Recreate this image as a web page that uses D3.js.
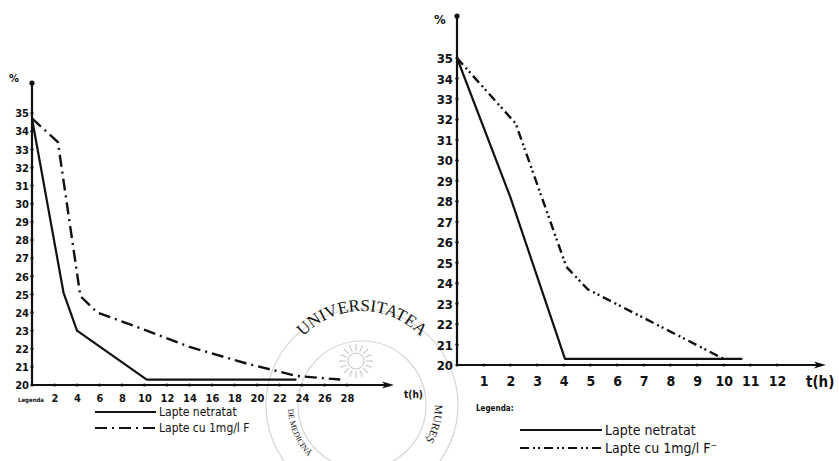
<!DOCTYPE html>
<meta charset="utf-8">
<head>
<style>
  body { margin: 0; background: #fff; }
  svg text { font-family: "DejaVu Sans Condensed", "Liberation Sans Narrow", sans-serif; fill: #111; }
  .tk text { font-weight: bold; }
</style>
</head>
<script src="https://d3js.org/d3.v7.min.js"></script>
<div id="chart"></div>
<script>
// values (time in hours, value in %)
var yTicks = [20, 21, 22, 23, 24, 25, 26, 27, 28, 29, 30, 31, 32, 33, 34, 35];
var xTicksL = [2, 4, 6, 8, 10, 12, 14, 16, 18, 20, 22, 24, 26, 28];
var xTicksR = [1, 2, 3, 4, 5, 6, 7, 8, 9, 10, 11, 12];

var timeL_netratat = [0, 2.8, 4, 10.2, 23.5];
var valL_netratat  = [34.7, 25.1, 23.0, 20.3, 20.3];
var timeL_fluor = [0, 2.3, 4.3, 5.8, 10.2, 14, 19, 23.5, 27.4];
var valL_fluor  = [34.7, 33.4, 24.9, 24.0, 23.0, 22.1, 21.2, 20.5, 20.3];

var timeR_netratat = [0, 2, 4.05, 10.7];
var valR_netratat  = [35, 28.2, 20.3, 20.3];
var timeR_fluor = [0, 2.2, 4.1, 4.9, 10];
var valR_fluor  = [35, 31.8, 24.8, 23.7, 20.3];

var svg = d3.select("#chart").append("svg")
    .attr("width", 839).attr("height", 461);
svg.append("rect").attr("width", 839).attr("height", 461).attr("fill", "#fff");

// faint watermark seal behind the charts
var seal = svg.append("g").attr("transform", "translate(362,405)")
    .attr("fill", "none").attr("stroke", "#d6d6d6").attr("stroke-width", 1.2);
seal.append("circle").attr("r", 96);
seal.append("circle").attr("r", 64);
seal.append("path").attr("id", "arcTop").attr("d", "M-80,-14 A80,80 0 0 1 80,-14").attr("stroke", "none");
seal.append("path").attr("id", "arcLeft").attr("d", "M-74,4 A74,74 0 0 0 -30,68").attr("stroke", "none");
seal.append("path").attr("id", "arcRight").attr("d", "M70,-20 A74,74 0 0 1 52,52").attr("stroke", "none");
function sealText(id, txt, size, start) {
  seal.append("text").attr("stroke", "none").attr("fill", "#cbcbcb")
      .style("font-size", size + "px").style("font-family", "Liberation Serif, serif")
      .append("textPath").attr("href", "#" + id)
      .attr("startOffset", start ? "0%" : "50%").attr("text-anchor", start ? "start" : "middle")
      .text(txt);
}
sealText("arcTop", "UNIVERSITATEA", 17, false);
sealText("arcLeft", "DE MEDICINĂ", 8, true);
sealText("arcRight", "MUREȘ", 11, false);
seal.append("circle").attr("cx", -6).attr("cy", -44).attr("r", 8).attr("stroke", "#cccccc");
d3.range(16).forEach(function(i) {
  var a = i * Math.PI / 8;
  seal.append("line").attr("x1", -6 + Math.cos(a) * 10).attr("y1", -44 + Math.sin(a) * 10)
      .attr("x2", -6 + Math.cos(a) * 17).attr("y2", -44 + Math.sin(a) * 17).attr("stroke", "#cccccc");
});

function panel(opt) {
  var x = d3.scaleLinear().domain(opt.xDomain).range(opt.xRange);
  var y = d3.scaleLinear().domain([20, 35]).range(opt.yRange);
  var g = svg.append("g");

  // axes lines with arrow
  g.append("line").attr("x1", x(0)).attr("x2", x(0)).attr("y1", opt.yTop).attr("y2", y(20))
      .attr("stroke", "#111").attr("stroke-width", 2.2);
  g.append("circle").attr("cx", x(0)).attr("cy", opt.yTop + 2).attr("r", 2.6).attr("fill", "#111");
  g.append("line").attr("x1", x(0)).attr("x2", opt.xEnd).attr("y1", y(20)).attr("y2", y(20))
      .attr("stroke", "#111").attr("stroke-width", 2.2);
  g.append("path").attr("d", "M" + (opt.xEnd + 4) + "," + y(20) + "l-12,-3.5l3,3.5l-3,3.5z").attr("fill", "#111");

  var ya = d3.axisLeft(y).tickValues(yTicks).tickSize(0).tickPadding(opt.yPad);
  var ga = g.append("g").attr("class", "tk").attr("transform", "translate(" + x(0) + ",0)").call(ya);
  ga.select(".domain").remove();
  ga.selectAll("text").style("font-size", opt.yFont + "px").attr("dy", "0.35em");
  g.selectAll(".yd").data(yTicks).enter().append("circle")
      .attr("cx", x(0)).attr("cy", function(d) { return y(d); }).attr("r", 1.6).attr("fill", "#111");

  var xa = d3.axisBottom(x).tickValues(opt.xTicks).tickSize(0).tickPadding(opt.xPad);
  var gx = g.append("g").attr("class", "tk").attr("transform", "translate(0," + y(20) + ")").call(xa);
  gx.select(".domain").remove();
  gx.selectAll("text").style("font-size", opt.xFont + "px");
  g.selectAll(".xd").data(opt.xTicks).enter().append("circle")
      .attr("cx", function(d) { return x(d); }).attr("cy", y(20)).attr("r", 1.6).attr("fill", "#111");

  var line = d3.line().x(function(d) { return x(d[0]); }).y(function(d) { return y(d[1]); });
  g.append("path").datum(d3.zip(opt.tN, opt.vN)).attr("d", line)
      .attr("fill", "none").attr("stroke", "#111").attr("stroke-width", 2.2).attr("stroke-linejoin", "round");
  g.append("path").datum(d3.zip(opt.tF, opt.vF)).attr("d", line)
      .attr("fill", "none").attr("stroke", "#111").attr("stroke-width", 2.4).attr("stroke-dasharray", opt.dash);

  g.append("text").attr("x", opt.pctX).attr("y", opt.pctY).style("font-size", opt.yFont + "px")
      .style("font-weight", "bold").text("%");
  g.append("text").attr("x", opt.thX).attr("y", opt.thY).style("font-size", opt.thFont + "px")
      .style("font-weight", "bold").text("t(h)");

  // legend
  var L = opt.leg;
  g.append("text").attr("x", L.x0).attr("y", L.y0).style("font-size", L.f0 + "px").style("font-weight", "bold").text(L.title);
  g.append("line").attr("x1", L.lx1).attr("x2", L.lx2).attr("y1", L.y1).attr("y2", L.y1)
      .attr("stroke", "#111").attr("stroke-width", 2);
  g.append("line").attr("x1", L.lx1).attr("x2", L.lx2).attr("y1", L.y2).attr("y2", L.y2)
      .attr("stroke", "#111").attr("stroke-width", 2).attr("stroke-dasharray", opt.dash);
  g.append("text").attr("x", L.tx).attr("y", L.y1 + L.f * 0.35).style("font-size", L.f + "px").text("Lapte  netratat");
  g.append("text").attr("x", L.tx).attr("y", L.y2 + L.f * 0.35).style("font-size", L.f + "px").text(L.second);
}

panel({
  xDomain: [0, 28], xRange: [32, 347], yRange: [385, 113], yTop: 81, xEnd: 390,
  xTicks: xTicksL, yPad: 3, yFont: 11, xPad: 9, xFont: 11,
  tN: timeL_netratat, vN: valL_netratat, tF: timeL_fluor, vF: valL_fluor,
  dash: "12,5,2,5",
  pctX: 9, pctY: 82, thX: 404, thY: 398, thFont: 10,
  leg: {title: "Legenda", x0: 18, y0: 402, f0: 6, lx1: 95, lx2: 156, tx: 159, y1: 412, y2: 428, f: 12,
        second: "Lapte cu 1mg/l F"}
});

panel({
  xDomain: [0, 12], xRange: [457, 777], yRange: [365, 58], yTop: 14, xEnd: 822,
  xTicks: xTicksR, yPad: 4, yFont: 13, xPad: 11, xFont: 14,
  tN: timeR_netratat, vN: valR_netratat, tF: timeR_fluor, vF: valR_fluor,
  dash: "9,4,2,3,2,4",
  pctX: 434, pctY: 24, thX: 806, thY: 387, thFont: 15,
  leg: {title: "Legenda:", x0: 476, y0: 411, f0: 8, lx1: 520, lx2: 602, tx: 605, y1: 430, y2: 448, f: 14,
        second: "Lapte cu 1mg/l F\u207B"}
});
</script>
